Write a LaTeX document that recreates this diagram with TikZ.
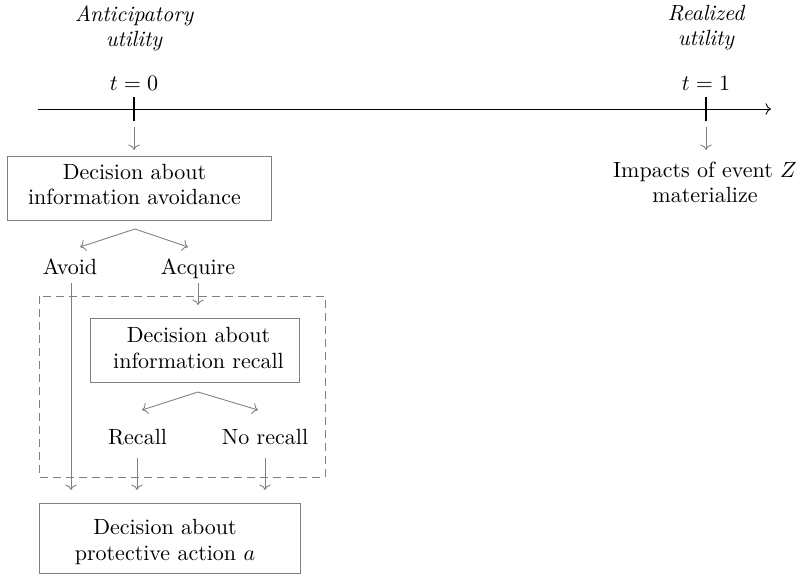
\documentclass[tikz,border=0pt]{standalone}
\usetikzlibrary{arrows.meta}
\begin{document}
\begin{tikzpicture}[x=0.4545pt,y=-0.4545pt,
  conn/.style={->, draw=gray, line width=0.4pt},
  box/.style={draw=gray, inner sep=0pt, line width=0.4pt},
  lbl/.style={inner sep=0pt, align=center},
  tick/.style={line width=0.8pt},
  dashbox/.style={draw=gray, dash pattern=on 3.6pt off 2.3pt, line width=0.4pt}]
\useasboundingbox (0,0) rectangle (800,575);
% timeline
\coordinate (tlstart) at (38,109);
\coordinate (tlend) at (771,109);
\draw[->, line width=0.4pt] (tlstart) -- (tlend);
\coordinate (t0top) at (134,97);
\coordinate (t0bot) at (134,121);
\coordinate (t1top) at (706,97);
\coordinate (t1bot) at (706,121);
\draw[tick] (t0top) -- (t0bot);
\draw[tick] (t1top) -- (t1bot);
\node[lbl, anchor=base] (t0) at (134,90) {$t=0$};
\node[lbl, anchor=base] (t1) at (706,90) {$t=1$};
\node[lbl, font=\itshape] (antic) at (134,28) {Anticipatory\\[-0.6pt]utility};
\node[lbl, font=\itshape] (real) at (706,28) {Realized\\[-0.6pt]utility};
% boxes
\node[box, minimum width=120pt, minimum height=29.1pt] (avoidbox) at (139,188) {};
\node[lbl] (avoidtext) at (134.5,184.5) {Decision about\\[-0.6pt]information avoidance};
\node[box, minimum width=95pt, minimum height=29.1pt] (recallbox) at (194.5,350) {};
\node[lbl] (recalltext) at (198.5,348) {Decision about\\[-0.6pt]information recall};
\node[box, minimum width=118.6pt, minimum height=31.8pt] (actbox) at (169.5,538) {};
\node[lbl] (acttext) at (165,542) {Decision about\\[-0.6pt]protective action $a$};
\node[lbl] (impacts) at (705,182) {Impacts of event $Z$\\[-0.6pt]materialize};
% arrows from timeline
\coordinate (a0s) at (134,127);
\coordinate (a0e) at (134,150);
\draw[conn] (a0s) -- (a0e);
\coordinate (a1s) at (706,127);
\coordinate (a1e) at (706,150);
\draw[conn] (a1s) -- (a1e);
% branch 1
\coordinate (apex1) at (135,229);
\coordinate (b1l) at (80,247);
\coordinate (b1r) at (188,247);
\draw[conn] (apex1) -- (b1l);
\draw[conn] (apex1) -- (b1r);
\node[lbl, anchor=base] (avoid) at (70,274) {Avoid};
\node[lbl, anchor=base] (acquire) at (198,274) {Acquire};
% dashed region
\draw[dashbox] (39,296) rectangle (325,477);
% avoid path
\coordinate (avs) at (71,283);
\coordinate (ave) at (71,490);
\draw[conn] (avs) -- (ave);
\coordinate (acs) at (198,283);
\coordinate (ace) at (198,305);
\draw[conn] (acs) -- (ace);
% branch 2
\coordinate (apex2) at (198,392);
\coordinate (b2l) at (142,410);
\coordinate (b2r) at (258,410);
\draw[conn] (apex2) -- (b2l);
\draw[conn] (apex2) -- (b2r);
\node[lbl, anchor=base] (recall) at (137.5,444) {Recall};
\node[lbl, anchor=base] (norecall) at (265,444) {No recall};
\coordinate (rcs) at (137,458);
\coordinate (rce) at (137,490);
\draw[conn] (rcs) -- (rce);
\coordinate (nrs) at (265,458);
\coordinate (nre) at (265,490);
\draw[conn] (nrs) -- (nre);
\end{tikzpicture}
\end{document}
